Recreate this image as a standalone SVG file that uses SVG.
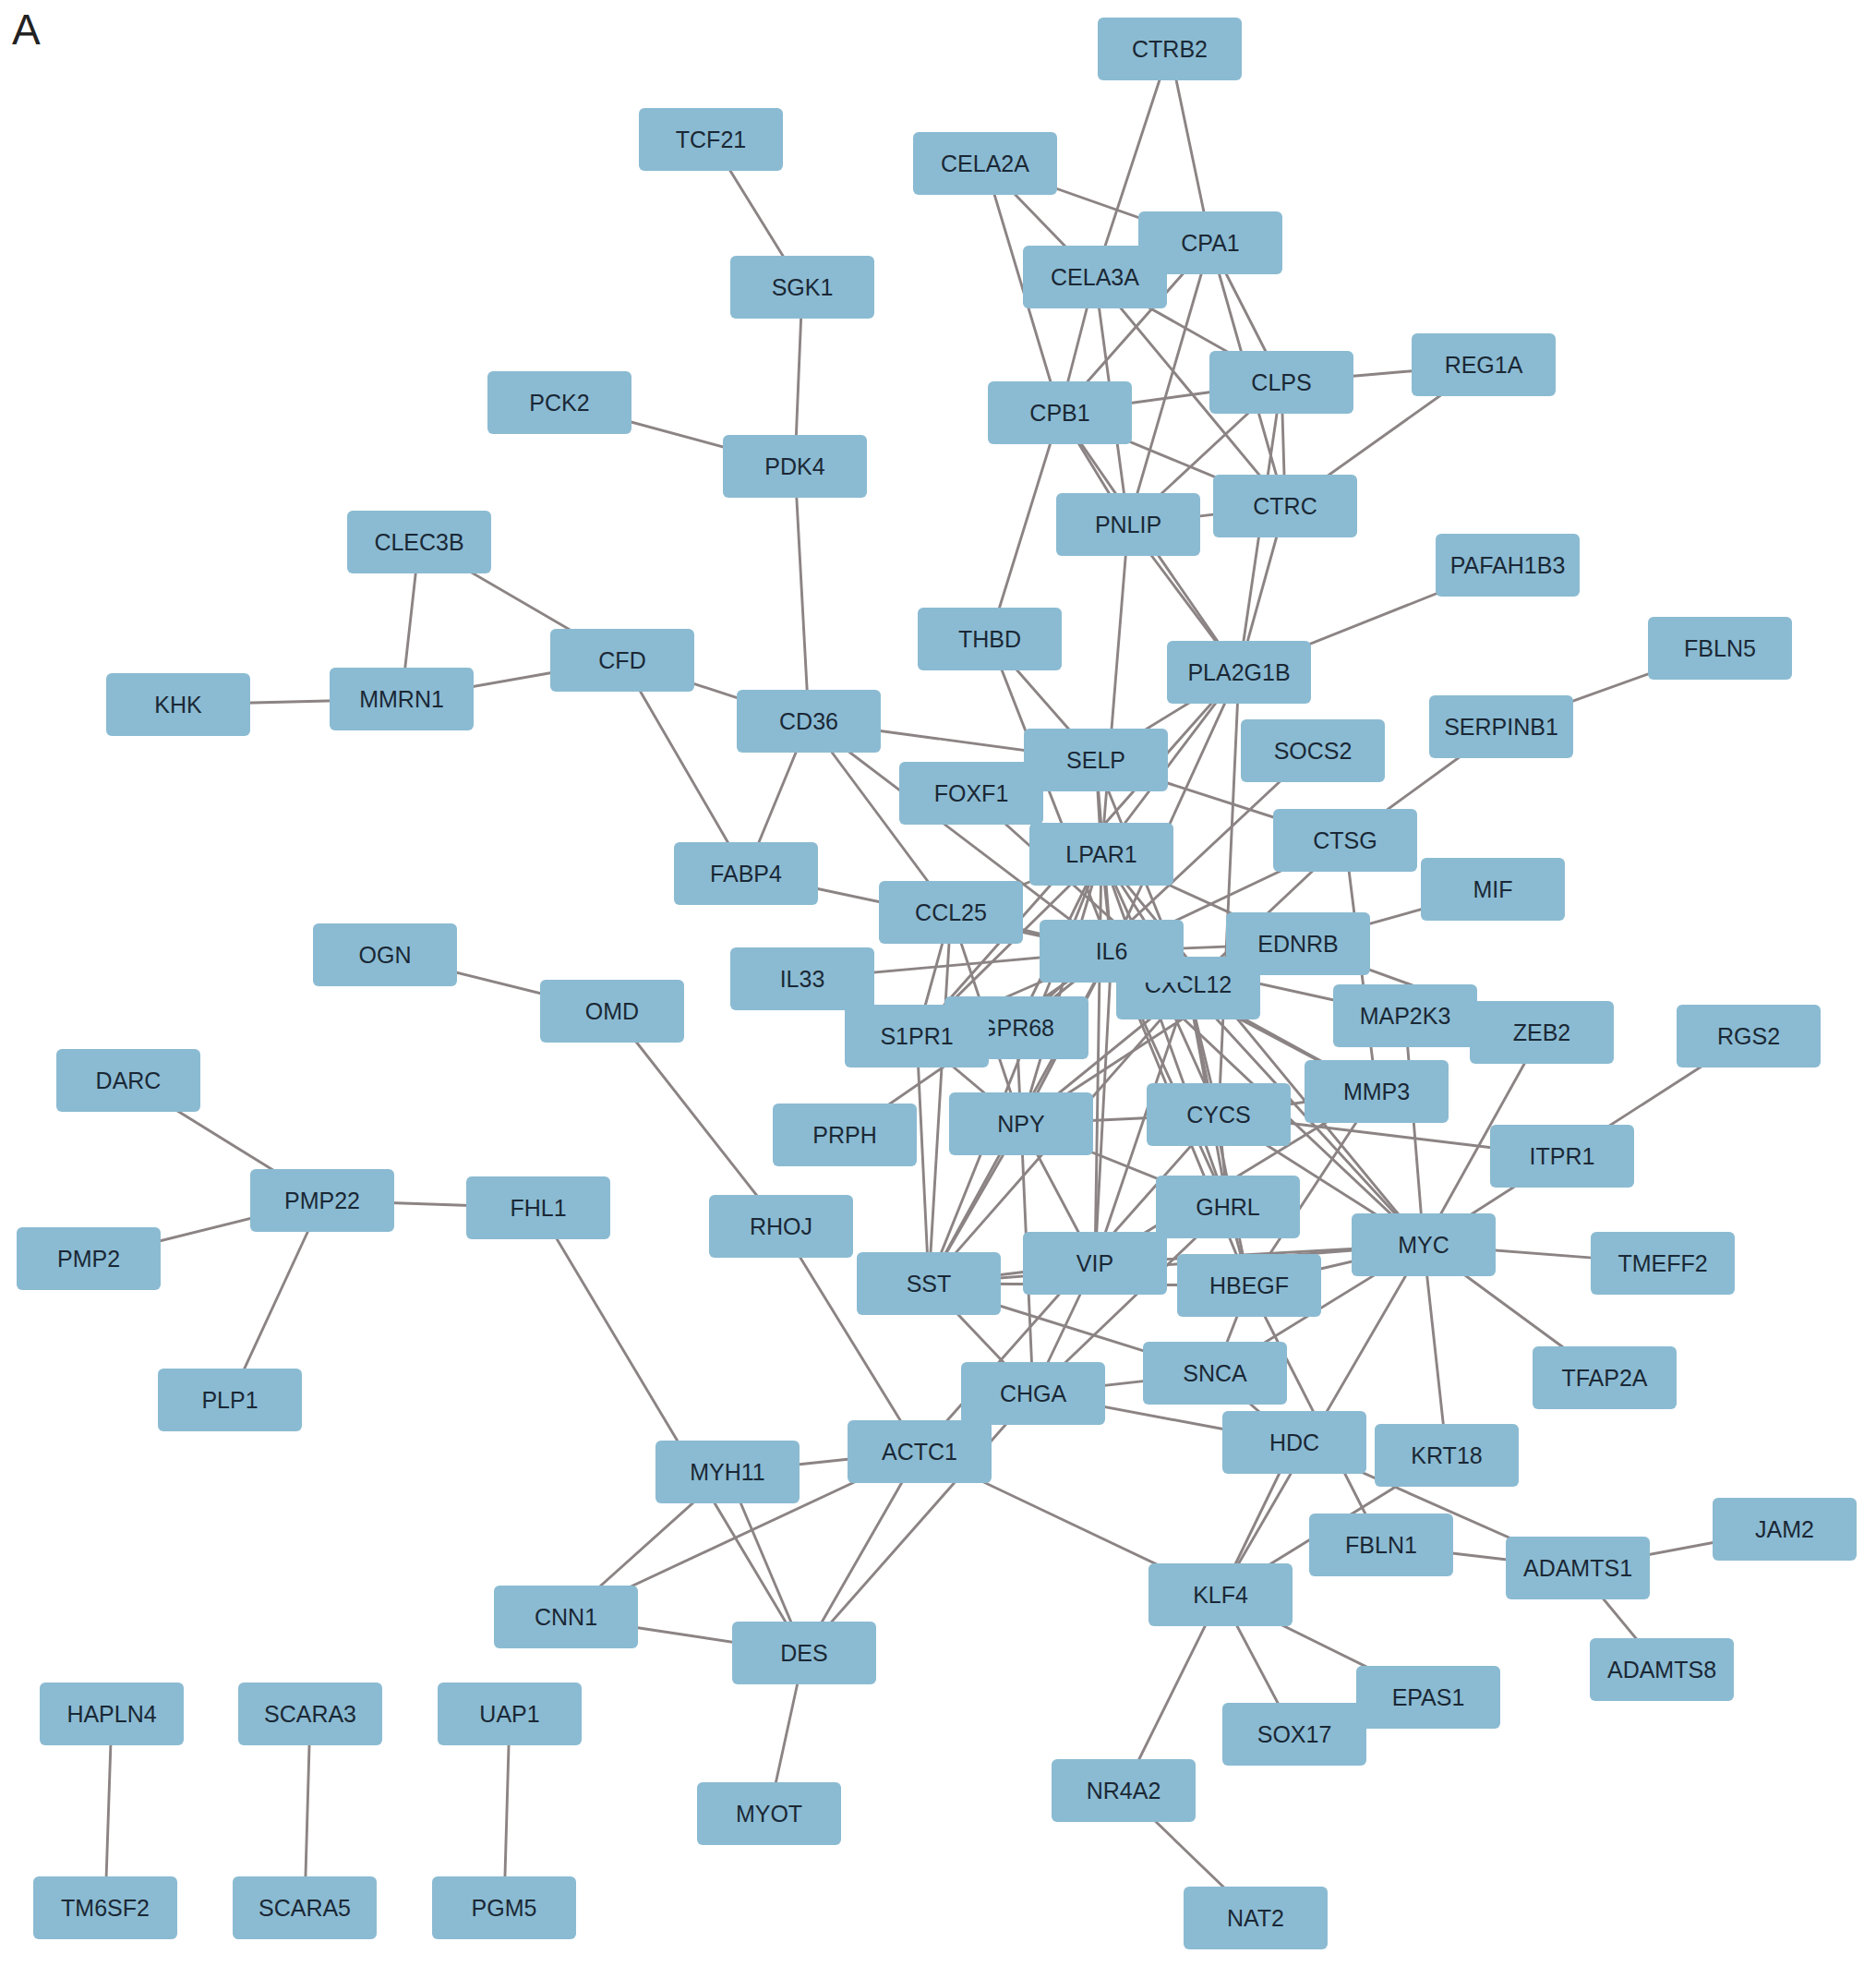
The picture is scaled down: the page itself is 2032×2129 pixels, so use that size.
<svg xmlns="http://www.w3.org/2000/svg" width="2032" height="2129" viewBox="0 0 2032 2129">
<style>
.e line{stroke:#8c8484;stroke-width:2.9;stroke-linecap:round}
.n rect{fill:#8bbbd2}
.n text{font-family:"Liberation Sans",Arial,sans-serif;font-size:25px;fill:#1a2836;text-anchor:middle}
.lbl{font-family:"Liberation Sans",Arial,sans-serif;font-size:46px;fill:#222}
</style>
<rect width="2032" height="2129" fill="#ffffff"/>
<text class="lbl" x="13" y="48">A</text>
<g id="edges" class="e">
<line x1="1267" y1="53" x2="1186" y2="300"/>
<line x1="1267" y1="53" x2="1311" y2="263"/>
<line x1="1067" y1="177" x2="1311" y2="263"/>
<line x1="1067" y1="177" x2="1186" y2="300"/>
<line x1="1067" y1="177" x2="1148" y2="447"/>
<line x1="1186" y1="300" x2="1148" y2="447"/>
<line x1="1186" y1="300" x2="1388" y2="414"/>
<line x1="1186" y1="300" x2="1392" y2="548"/>
<line x1="1186" y1="300" x2="1222" y2="568"/>
<line x1="1311" y1="263" x2="1148" y2="447"/>
<line x1="1311" y1="263" x2="1222" y2="568"/>
<line x1="1311" y1="263" x2="1388" y2="414"/>
<line x1="1311" y1="263" x2="1392" y2="548"/>
<line x1="1148" y1="447" x2="1388" y2="414"/>
<line x1="1388" y1="414" x2="1607" y2="395"/>
<line x1="1607" y1="395" x2="1392" y2="548"/>
<line x1="1148" y1="447" x2="1392" y2="548"/>
<line x1="1388" y1="414" x2="1222" y2="568"/>
<line x1="1388" y1="414" x2="1392" y2="548"/>
<line x1="1222" y1="568" x2="1392" y2="548"/>
<line x1="1148" y1="447" x2="1222" y2="568"/>
<line x1="1148" y1="447" x2="1342" y2="728"/>
<line x1="1222" y1="568" x2="1342" y2="728"/>
<line x1="1148" y1="447" x2="1072" y2="692"/>
<line x1="1222" y1="568" x2="1193" y2="925"/>
<line x1="1392" y1="548" x2="1342" y2="728"/>
<line x1="1388" y1="414" x2="1342" y2="728"/>
<line x1="1342" y1="728" x2="1633" y2="612"/>
<line x1="770" y1="151" x2="869" y2="311"/>
<line x1="869" y1="311" x2="861" y2="505"/>
<line x1="606" y1="436" x2="861" y2="505"/>
<line x1="861" y1="505" x2="876" y2="781"/>
<line x1="454" y1="587" x2="435" y2="757"/>
<line x1="454" y1="587" x2="674" y2="715"/>
<line x1="193" y1="763" x2="435" y2="757"/>
<line x1="435" y1="757" x2="674" y2="715"/>
<line x1="674" y1="715" x2="876" y2="781"/>
<line x1="674" y1="715" x2="808" y2="946"/>
<line x1="876" y1="781" x2="808" y2="946"/>
<line x1="876" y1="781" x2="1187" y2="823"/>
<line x1="876" y1="781" x2="1204" y2="1030"/>
<line x1="876" y1="781" x2="1030" y2="988"/>
<line x1="808" y1="946" x2="1204" y2="1030"/>
<line x1="417" y1="1034" x2="663" y2="1095"/>
<line x1="663" y1="1095" x2="846" y2="1328"/>
<line x1="846" y1="1328" x2="996" y2="1572"/>
<line x1="139" y1="1170" x2="349" y2="1300"/>
<line x1="96" y1="1363" x2="349" y2="1300"/>
<line x1="349" y1="1300" x2="249" y2="1516"/>
<line x1="349" y1="1300" x2="583" y2="1308"/>
<line x1="583" y1="1308" x2="871" y2="1790"/>
<line x1="788" y1="1594" x2="871" y2="1790"/>
<line x1="788" y1="1594" x2="996" y2="1572"/>
<line x1="788" y1="1594" x2="613" y2="1751"/>
<line x1="613" y1="1751" x2="996" y2="1572"/>
<line x1="613" y1="1751" x2="871" y2="1790"/>
<line x1="996" y1="1572" x2="871" y2="1790"/>
<line x1="1119" y1="1509" x2="871" y2="1790"/>
<line x1="871" y1="1790" x2="833" y2="1964"/>
<line x1="121" y1="1856" x2="114" y2="2066"/>
<line x1="336" y1="1856" x2="330" y2="2066"/>
<line x1="552" y1="1856" x2="546" y2="2066"/>
<line x1="1072" y1="692" x2="1187" y2="823"/>
<line x1="1072" y1="692" x2="1204" y2="1030"/>
<line x1="1052" y1="859" x2="1287" y2="1070"/>
<line x1="1342" y1="728" x2="1187" y2="823"/>
<line x1="1342" y1="728" x2="1193" y2="925"/>
<line x1="1342" y1="728" x2="1204" y2="1030"/>
<line x1="1342" y1="728" x2="993" y2="1122"/>
<line x1="1342" y1="728" x2="1320" y2="1207"/>
<line x1="1422" y1="813" x2="1101" y2="1113"/>
<line x1="1187" y1="823" x2="1193" y2="925"/>
<line x1="1187" y1="823" x2="1204" y2="1030"/>
<line x1="1187" y1="823" x2="1457" y2="910"/>
<line x1="1187" y1="823" x2="1287" y2="1070"/>
<line x1="1193" y1="925" x2="1204" y2="1030"/>
<line x1="1193" y1="925" x2="1287" y2="1070"/>
<line x1="1193" y1="925" x2="1406" y2="1022"/>
<line x1="1193" y1="925" x2="1030" y2="988"/>
<line x1="1193" y1="925" x2="993" y2="1122"/>
<line x1="1193" y1="925" x2="1101" y2="1113"/>
<line x1="1193" y1="925" x2="1106" y2="1217"/>
<line x1="1193" y1="925" x2="1006" y2="1390"/>
<line x1="1193" y1="925" x2="1186" y2="1368"/>
<line x1="1193" y1="925" x2="1542" y2="1348"/>
<line x1="1193" y1="925" x2="1330" y2="1307"/>
<line x1="1193" y1="925" x2="1320" y2="1207"/>
<line x1="1204" y1="1030" x2="1287" y2="1070"/>
<line x1="1204" y1="1030" x2="1406" y2="1022"/>
<line x1="1204" y1="1030" x2="1457" y2="910"/>
<line x1="1204" y1="1030" x2="1522" y2="1100"/>
<line x1="1204" y1="1030" x2="1491" y2="1182"/>
<line x1="1204" y1="1030" x2="1542" y2="1348"/>
<line x1="1204" y1="1030" x2="1330" y2="1307"/>
<line x1="1204" y1="1030" x2="1353" y2="1392"/>
<line x1="1204" y1="1030" x2="1186" y2="1368"/>
<line x1="1204" y1="1030" x2="1106" y2="1217"/>
<line x1="1204" y1="1030" x2="1006" y2="1390"/>
<line x1="1204" y1="1030" x2="1101" y2="1113"/>
<line x1="1204" y1="1030" x2="993" y2="1122"/>
<line x1="1204" y1="1030" x2="1030" y2="988"/>
<line x1="1204" y1="1030" x2="869" y2="1060"/>
<line x1="1204" y1="1030" x2="915" y2="1229"/>
<line x1="1287" y1="1070" x2="1542" y2="1348"/>
<line x1="1287" y1="1070" x2="1491" y2="1182"/>
<line x1="1287" y1="1070" x2="1320" y2="1207"/>
<line x1="1287" y1="1070" x2="1106" y2="1217"/>
<line x1="1287" y1="1070" x2="1457" y2="910"/>
<line x1="1287" y1="1070" x2="1006" y2="1390"/>
<line x1="1287" y1="1070" x2="1330" y2="1307"/>
<line x1="1287" y1="1070" x2="1186" y2="1368"/>
<line x1="1287" y1="1070" x2="1353" y2="1392"/>
<line x1="1030" y1="988" x2="993" y2="1122"/>
<line x1="1030" y1="988" x2="1006" y2="1390"/>
<line x1="1030" y1="988" x2="1106" y2="1217"/>
<line x1="993" y1="1122" x2="1006" y2="1390"/>
<line x1="993" y1="1122" x2="1106" y2="1217"/>
<line x1="1101" y1="1113" x2="1106" y2="1217"/>
<line x1="1106" y1="1217" x2="1006" y2="1390"/>
<line x1="1106" y1="1217" x2="1186" y2="1368"/>
<line x1="1106" y1="1217" x2="1119" y2="1509"/>
<line x1="1106" y1="1217" x2="1320" y2="1207"/>
<line x1="1106" y1="1217" x2="1330" y2="1307"/>
<line x1="1106" y1="1217" x2="1406" y2="1022"/>
<line x1="1006" y1="1390" x2="1186" y2="1368"/>
<line x1="1006" y1="1390" x2="1119" y2="1509"/>
<line x1="1006" y1="1390" x2="1316" y2="1487"/>
<line x1="1006" y1="1390" x2="1542" y2="1348"/>
<line x1="1006" y1="1390" x2="1353" y2="1392"/>
<line x1="1186" y1="1368" x2="1119" y2="1509"/>
<line x1="1186" y1="1368" x2="1330" y2="1307"/>
<line x1="1186" y1="1368" x2="1542" y2="1348"/>
<line x1="1186" y1="1368" x2="1491" y2="1182"/>
<line x1="1320" y1="1207" x2="996" y2="1572"/>
<line x1="1320" y1="1207" x2="1330" y2="1307"/>
<line x1="1320" y1="1207" x2="1692" y2="1252"/>
<line x1="1320" y1="1207" x2="1491" y2="1182"/>
<line x1="1320" y1="1207" x2="1542" y2="1348"/>
<line x1="1330" y1="1307" x2="1353" y2="1392"/>
<line x1="1330" y1="1307" x2="1119" y2="1509"/>
<line x1="1353" y1="1392" x2="1316" y2="1487"/>
<line x1="1353" y1="1392" x2="1542" y2="1348"/>
<line x1="1353" y1="1392" x2="1491" y2="1182"/>
<line x1="1353" y1="1392" x2="1496" y2="1673"/>
<line x1="1316" y1="1487" x2="1119" y2="1509"/>
<line x1="1316" y1="1487" x2="1402" y2="1562"/>
<line x1="1316" y1="1487" x2="1542" y2="1348"/>
<line x1="1119" y1="1509" x2="1402" y2="1562"/>
<line x1="1119" y1="1509" x2="996" y2="1572"/>
<line x1="1457" y1="910" x2="1626" y2="787"/>
<line x1="1457" y1="910" x2="1491" y2="1182"/>
<line x1="1626" y1="787" x2="1863" y2="702"/>
<line x1="1406" y1="1022" x2="1617" y2="963"/>
<line x1="1406" y1="1022" x2="1670" y2="1118"/>
<line x1="1522" y1="1100" x2="1542" y2="1348"/>
<line x1="1542" y1="1348" x2="1670" y2="1118"/>
<line x1="1542" y1="1348" x2="1692" y2="1252"/>
<line x1="1542" y1="1348" x2="1801" y2="1368"/>
<line x1="1542" y1="1348" x2="1738" y2="1492"/>
<line x1="1542" y1="1348" x2="1567" y2="1576"/>
<line x1="1542" y1="1348" x2="1322" y2="1727"/>
<line x1="1692" y1="1252" x2="1894" y2="1122"/>
<line x1="1402" y1="1562" x2="1322" y2="1727"/>
<line x1="1402" y1="1562" x2="1709" y2="1698"/>
<line x1="1567" y1="1576" x2="1322" y2="1727"/>
<line x1="1496" y1="1673" x2="1709" y2="1698"/>
<line x1="1709" y1="1698" x2="1933" y2="1656"/>
<line x1="1709" y1="1698" x2="1800" y2="1808"/>
<line x1="1322" y1="1727" x2="1547" y2="1838"/>
<line x1="1322" y1="1727" x2="1402" y2="1878"/>
<line x1="1322" y1="1727" x2="1217" y2="1939"/>
<line x1="1217" y1="1939" x2="1360" y2="2077"/>
<line x1="996" y1="1572" x2="1322" y2="1727"/>
</g>
<g id="nodes">
<g id="n-CTRB2" class="n" transform="translate(1267,53)"><rect x="-78" y="-34" width="156" height="68" rx="6"/><text y="9">CTRB2</text></g>
<g id="n-TCF21" class="n" transform="translate(770,151)"><rect x="-78" y="-34" width="156" height="68" rx="6"/><text y="9">TCF21</text></g>
<g id="n-CELA2A" class="n" transform="translate(1067,177)"><rect x="-78" y="-34" width="156" height="68" rx="6"/><text y="9">CELA2A</text></g>
<g id="n-CPA1" class="n" transform="translate(1311,263)"><rect x="-78" y="-34" width="156" height="68" rx="6"/><text y="9">CPA1</text></g>
<g id="n-CELA3A" class="n" transform="translate(1186,300)"><rect x="-78" y="-34" width="156" height="68" rx="6"/><text y="9">CELA3A</text></g>
<g id="n-SGK1" class="n" transform="translate(869,311)"><rect x="-78" y="-34" width="156" height="68" rx="6"/><text y="9">SGK1</text></g>
<g id="n-REG1A" class="n" transform="translate(1607,395)"><rect x="-78" y="-34" width="156" height="68" rx="6"/><text y="9">REG1A</text></g>
<g id="n-CLPS" class="n" transform="translate(1388,414)"><rect x="-78" y="-34" width="156" height="68" rx="6"/><text y="9">CLPS</text></g>
<g id="n-PCK2" class="n" transform="translate(606,436)"><rect x="-78" y="-34" width="156" height="68" rx="6"/><text y="9">PCK2</text></g>
<g id="n-CPB1" class="n" transform="translate(1148,447)"><rect x="-78" y="-34" width="156" height="68" rx="6"/><text y="9">CPB1</text></g>
<g id="n-PDK4" class="n" transform="translate(861,505)"><rect x="-78" y="-34" width="156" height="68" rx="6"/><text y="9">PDK4</text></g>
<g id="n-CTRC" class="n" transform="translate(1392,548)"><rect x="-78" y="-34" width="156" height="68" rx="6"/><text y="9">CTRC</text></g>
<g id="n-PNLIP" class="n" transform="translate(1222,568)"><rect x="-78" y="-34" width="156" height="68" rx="6"/><text y="9">PNLIP</text></g>
<g id="n-CLEC3B" class="n" transform="translate(454,587)"><rect x="-78" y="-34" width="156" height="68" rx="6"/><text y="9">CLEC3B</text></g>
<g id="n-PAFAH1B3" class="n" transform="translate(1633,612)"><rect x="-78" y="-34" width="156" height="68" rx="6"/><text y="9">PAFAH1B3</text></g>
<g id="n-THBD" class="n" transform="translate(1072,692)"><rect x="-78" y="-34" width="156" height="68" rx="6"/><text y="9">THBD</text></g>
<g id="n-FBLN5" class="n" transform="translate(1863,702)"><rect x="-78" y="-34" width="156" height="68" rx="6"/><text y="9">FBLN5</text></g>
<g id="n-CFD" class="n" transform="translate(674,715)"><rect x="-78" y="-34" width="156" height="68" rx="6"/><text y="9">CFD</text></g>
<g id="n-PLA2G1B" class="n" transform="translate(1342,728)"><rect x="-78" y="-34" width="156" height="68" rx="6"/><text y="9">PLA2G1B</text></g>
<g id="n-MMRN1" class="n" transform="translate(435,757)"><rect x="-78" y="-34" width="156" height="68" rx="6"/><text y="9">MMRN1</text></g>
<g id="n-KHK" class="n" transform="translate(193,763)"><rect x="-78" y="-34" width="156" height="68" rx="6"/><text y="9">KHK</text></g>
<g id="n-CD36" class="n" transform="translate(876,781)"><rect x="-78" y="-34" width="156" height="68" rx="6"/><text y="9">CD36</text></g>
<g id="n-SERPINB1" class="n" transform="translate(1626,787)"><rect x="-78" y="-34" width="156" height="68" rx="6"/><text y="9">SERPINB1</text></g>
<g id="n-SOCS2" class="n" transform="translate(1422,813)"><rect x="-78" y="-34" width="156" height="68" rx="6"/><text y="9">SOCS2</text></g>
<g id="n-SELP" class="n" transform="translate(1187,823)"><rect x="-78" y="-34" width="156" height="68" rx="6"/><text y="9">SELP</text></g>
<g id="n-FOXF1" class="n" transform="translate(1052,859)"><rect x="-78" y="-34" width="156" height="68" rx="6"/><text y="9">FOXF1</text></g>
<g id="n-CTSG" class="n" transform="translate(1457,910)"><rect x="-78" y="-34" width="156" height="68" rx="6"/><text y="9">CTSG</text></g>
<g id="n-LPAR1" class="n" transform="translate(1193,925)"><rect x="-78" y="-34" width="156" height="68" rx="6"/><text y="9">LPAR1</text></g>
<g id="n-FABP4" class="n" transform="translate(808,946)"><rect x="-78" y="-34" width="156" height="68" rx="6"/><text y="9">FABP4</text></g>
<g id="n-MIF" class="n" transform="translate(1617,963)"><rect x="-78" y="-34" width="156" height="68" rx="6"/><text y="9">MIF</text></g>
<g id="n-CCL25" class="n" transform="translate(1030,988)"><rect x="-78" y="-34" width="156" height="68" rx="6"/><text y="9">CCL25</text></g>
<g id="n-EDNRB" class="n" transform="translate(1406,1022)"><rect x="-78" y="-34" width="156" height="68" rx="6"/><text y="9">EDNRB</text></g>
<g id="n-CXCL12" class="n" transform="translate(1287,1070)"><rect x="-78" y="-34" width="156" height="68" rx="6"/><text y="5">CXCL12</text></g>
<g id="n-IL6" class="n" transform="translate(1204,1030)"><rect x="-78" y="-34" width="156" height="68" rx="6"/><text y="9">IL6</text></g>
<g id="n-OGN" class="n" transform="translate(417,1034)"><rect x="-78" y="-34" width="156" height="68" rx="6"/><text y="9">OGN</text></g>
<g id="n-IL33" class="n" transform="translate(869,1060)"><rect x="-78" y="-34" width="156" height="68" rx="6"/><text y="9">IL33</text></g>
<g id="n-OMD" class="n" transform="translate(663,1095)"><rect x="-78" y="-34" width="156" height="68" rx="6"/><text y="9">OMD</text></g>
<g id="n-ZEB2" class="n" transform="translate(1670,1118)"><rect x="-78" y="-34" width="156" height="68" rx="6"/><text y="9">ZEB2</text></g>
<g id="n-MAP2K3" class="n" transform="translate(1522,1100)"><rect x="-78" y="-34" width="156" height="68" rx="6"/><text y="9">MAP2K3</text></g>
<g id="n-GPR68" class="n" transform="translate(1101,1113)"><rect x="-78" y="-34" width="156" height="68" rx="6"/><text y="9">GPR68</text></g>
<g id="n-S1PR1" class="n" transform="translate(993,1122)"><rect x="-78" y="-34" width="156" height="68" rx="6"/><text y="9">S1PR1</text></g>
<g id="n-RGS2" class="n" transform="translate(1894,1122)"><rect x="-78" y="-34" width="156" height="68" rx="6"/><text y="9">RGS2</text></g>
<g id="n-DARC" class="n" transform="translate(139,1170)"><rect x="-78" y="-34" width="156" height="68" rx="6"/><text y="9">DARC</text></g>
<g id="n-MMP3" class="n" transform="translate(1491,1182)"><rect x="-78" y="-34" width="156" height="68" rx="6"/><text y="9">MMP3</text></g>
<g id="n-CYCS" class="n" transform="translate(1320,1207)"><rect x="-78" y="-34" width="156" height="68" rx="6"/><text y="9">CYCS</text></g>
<g id="n-NPY" class="n" transform="translate(1106,1217)"><rect x="-78" y="-34" width="156" height="68" rx="6"/><text y="9">NPY</text></g>
<g id="n-PRPH" class="n" transform="translate(915,1229)"><rect x="-78" y="-34" width="156" height="68" rx="6"/><text y="9">PRPH</text></g>
<g id="n-ITPR1" class="n" transform="translate(1692,1252)"><rect x="-78" y="-34" width="156" height="68" rx="6"/><text y="9">ITPR1</text></g>
<g id="n-PMP22" class="n" transform="translate(349,1300)"><rect x="-78" y="-34" width="156" height="68" rx="6"/><text y="9">PMP22</text></g>
<g id="n-GHRL" class="n" transform="translate(1330,1307)"><rect x="-78" y="-34" width="156" height="68" rx="6"/><text y="9">GHRL</text></g>
<g id="n-FHL1" class="n" transform="translate(583,1308)"><rect x="-78" y="-34" width="156" height="68" rx="6"/><text y="9">FHL1</text></g>
<g id="n-RHOJ" class="n" transform="translate(846,1328)"><rect x="-78" y="-34" width="156" height="68" rx="6"/><text y="9">RHOJ</text></g>
<g id="n-MYC" class="n" transform="translate(1542,1348)"><rect x="-78" y="-34" width="156" height="68" rx="6"/><text y="9">MYC</text></g>
<g id="n-PMP2" class="n" transform="translate(96,1363)"><rect x="-78" y="-34" width="156" height="68" rx="6"/><text y="9">PMP2</text></g>
<g id="n-VIP" class="n" transform="translate(1186,1368)"><rect x="-78" y="-34" width="156" height="68" rx="6"/><text y="9">VIP</text></g>
<g id="n-TMEFF2" class="n" transform="translate(1801,1368)"><rect x="-78" y="-34" width="156" height="68" rx="6"/><text y="9">TMEFF2</text></g>
<g id="n-SST" class="n" transform="translate(1006,1390)"><rect x="-78" y="-34" width="156" height="68" rx="6"/><text y="9">SST</text></g>
<g id="n-HBEGF" class="n" transform="translate(1353,1392)"><rect x="-78" y="-34" width="156" height="68" rx="6"/><text y="9">HBEGF</text></g>
<g id="n-SNCA" class="n" transform="translate(1316,1487)"><rect x="-78" y="-34" width="156" height="68" rx="6"/><text y="9">SNCA</text></g>
<g id="n-TFAP2A" class="n" transform="translate(1738,1492)"><rect x="-78" y="-34" width="156" height="68" rx="6"/><text y="9">TFAP2A</text></g>
<g id="n-CHGA" class="n" transform="translate(1119,1509)"><rect x="-78" y="-34" width="156" height="68" rx="6"/><text y="9">CHGA</text></g>
<g id="n-PLP1" class="n" transform="translate(249,1516)"><rect x="-78" y="-34" width="156" height="68" rx="6"/><text y="9">PLP1</text></g>
<g id="n-HDC" class="n" transform="translate(1402,1562)"><rect x="-78" y="-34" width="156" height="68" rx="6"/><text y="9">HDC</text></g>
<g id="n-ACTC1" class="n" transform="translate(996,1572)"><rect x="-78" y="-34" width="156" height="68" rx="6"/><text y="9">ACTC1</text></g>
<g id="n-KRT18" class="n" transform="translate(1567,1576)"><rect x="-78" y="-34" width="156" height="68" rx="6"/><text y="9">KRT18</text></g>
<g id="n-MYH11" class="n" transform="translate(788,1594)"><rect x="-78" y="-34" width="156" height="68" rx="6"/><text y="9">MYH11</text></g>
<g id="n-JAM2" class="n" transform="translate(1933,1656)"><rect x="-78" y="-34" width="156" height="68" rx="6"/><text y="9">JAM2</text></g>
<g id="n-FBLN1" class="n" transform="translate(1496,1673)"><rect x="-78" y="-34" width="156" height="68" rx="6"/><text y="9">FBLN1</text></g>
<g id="n-ADAMTS1" class="n" transform="translate(1709,1698)"><rect x="-78" y="-34" width="156" height="68" rx="6"/><text y="9">ADAMTS1</text></g>
<g id="n-KLF4" class="n" transform="translate(1322,1727)"><rect x="-78" y="-34" width="156" height="68" rx="6"/><text y="9">KLF4</text></g>
<g id="n-CNN1" class="n" transform="translate(613,1751)"><rect x="-78" y="-34" width="156" height="68" rx="6"/><text y="9">CNN1</text></g>
<g id="n-DES" class="n" transform="translate(871,1790)"><rect x="-78" y="-34" width="156" height="68" rx="6"/><text y="9">DES</text></g>
<g id="n-ADAMTS8" class="n" transform="translate(1800,1808)"><rect x="-78" y="-34" width="156" height="68" rx="6"/><text y="9">ADAMTS8</text></g>
<g id="n-EPAS1" class="n" transform="translate(1547,1838)"><rect x="-78" y="-34" width="156" height="68" rx="6"/><text y="9">EPAS1</text></g>
<g id="n-SOX17" class="n" transform="translate(1402,1878)"><rect x="-78" y="-34" width="156" height="68" rx="6"/><text y="9">SOX17</text></g>
<g id="n-HAPLN4" class="n" transform="translate(121,1856)"><rect x="-78" y="-34" width="156" height="68" rx="6"/><text y="9">HAPLN4</text></g>
<g id="n-SCARA3" class="n" transform="translate(336,1856)"><rect x="-78" y="-34" width="156" height="68" rx="6"/><text y="9">SCARA3</text></g>
<g id="n-UAP1" class="n" transform="translate(552,1856)"><rect x="-78" y="-34" width="156" height="68" rx="6"/><text y="9">UAP1</text></g>
<g id="n-NR4A2" class="n" transform="translate(1217,1939)"><rect x="-78" y="-34" width="156" height="68" rx="6"/><text y="9">NR4A2</text></g>
<g id="n-MYOT" class="n" transform="translate(833,1964)"><rect x="-78" y="-34" width="156" height="68" rx="6"/><text y="9">MYOT</text></g>
<g id="n-TM6SF2" class="n" transform="translate(114,2066)"><rect x="-78" y="-34" width="156" height="68" rx="6"/><text y="9">TM6SF2</text></g>
<g id="n-SCARA5" class="n" transform="translate(330,2066)"><rect x="-78" y="-34" width="156" height="68" rx="6"/><text y="9">SCARA5</text></g>
<g id="n-PGM5" class="n" transform="translate(546,2066)"><rect x="-78" y="-34" width="156" height="68" rx="6"/><text y="9">PGM5</text></g>
<g id="n-NAT2" class="n" transform="translate(1360,2077)"><rect x="-78" y="-34" width="156" height="68" rx="6"/><text y="9">NAT2</text></g>
</g>
</svg>
